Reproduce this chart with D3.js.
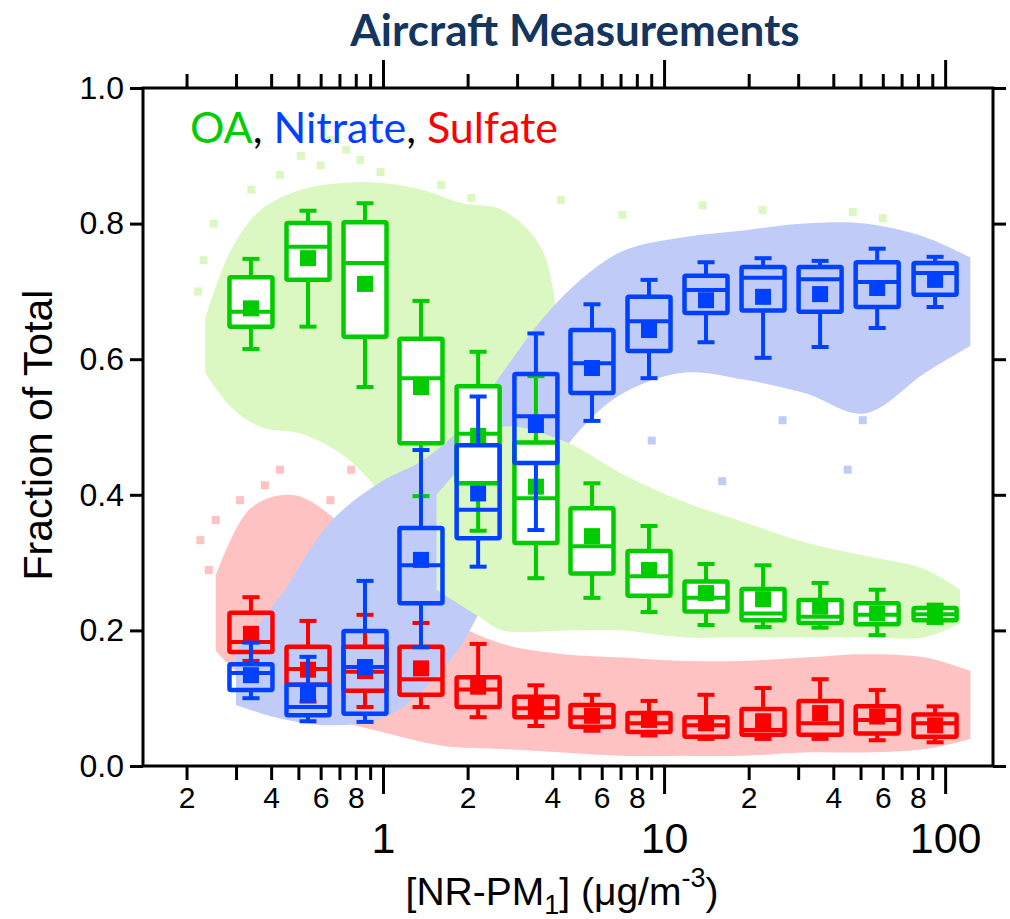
<!DOCTYPE html>
<html>
<head>
<meta charset="utf-8">
<script src="https://cdn.jsdelivr.net/npm/d3@7"></script>
<style>
  body { margin: 0; background: #fff; }
  text { font-family: "Liberation Sans", Arial, sans-serif; }
</style>
</head>
<body>
<div id="chart"></div>
<script>
// bin centres of the box plots (NR-PM1, ug/m3)
const binCenters = [0.339, 0.541, 0.863, 1.365, 2.18, 3.50, 5.54, 8.84, 14.1, 22.5, 35.9, 57.3, 92.1];

// OA (green) box statistics
const oaLo   = [0.615, 0.648, 0.559, 0.398, 0.347, 0.277, 0.248, 0.227, 0.208, 0.205, 0.204, 0.193, 0.211];
const oaQ1   = [0.648, 0.717, 0.633, 0.476, 0.417, 0.329, 0.284, 0.251, 0.228, 0.215, 0.211, 0.209, 0.215];
const oaMed  = [0.670, 0.766, 0.742, 0.572, 0.490, 0.395, 0.324, 0.280, 0.248, 0.225, 0.220, 0.223, 0.224];
const oaQ3   = [0.721, 0.801, 0.802, 0.630, 0.560, 0.477, 0.380, 0.317, 0.272, 0.261, 0.245, 0.240, 0.233];
const oaHi   = [0.748, 0.819, 0.830, 0.686, 0.611, 0.575, 0.417, 0.354, 0.298, 0.296, 0.270, 0.260, 0.238];
const oaMean = [0.675, 0.749, 0.711, 0.559, 0.487, 0.412, 0.339, 0.289, 0.255, 0.246, 0.235, 0.225, 0.224];

// Nitrate (blue)
const no3Lo   = [0.100, 0.066, 0.065, 0.175, 0.294, 0.348, 0.509, 0.572, 0.625, 0.602, 0.618, 0.646, 0.677];
const no3Q1   = [0.112, 0.075, 0.077, 0.240, 0.336, 0.447, 0.550, 0.612, 0.668, 0.672, 0.670, 0.677, 0.695];
const no3Med  = [0.137, 0.087, 0.146, 0.296, 0.378, 0.516, 0.594, 0.656, 0.702, 0.720, 0.718, 0.714, 0.727];
const no3Q3   = [0.150, 0.120, 0.199, 0.351, 0.473, 0.578, 0.643, 0.692, 0.723, 0.736, 0.736, 0.743, 0.742];
const no3Hi   = [0.182, 0.161, 0.273, 0.466, 0.545, 0.638, 0.681, 0.717, 0.743, 0.749, 0.745, 0.763, 0.751];
const no3Mean = [0.134, 0.105, 0.146, 0.304, 0.402, 0.503, 0.587, 0.643, 0.687, 0.692, 0.696, 0.705, 0.717];

// Sulfate (red)
const so4Lo   = [0.155, 0.095, 0.087, 0.087, 0.072, 0.059, 0.052, 0.045, 0.040, 0.040, 0.040, 0.038, 0.035];
const so4Q1   = [0.168, 0.120, 0.111, 0.105, 0.087, 0.072, 0.058, 0.050, 0.043, 0.046, 0.046, 0.048, 0.043];
const so4Med  = [0.183, 0.143, 0.139, 0.128, 0.113, 0.085, 0.072, 0.063, 0.060, 0.053, 0.063, 0.068, 0.063];
const so4Q3   = [0.226, 0.176, 0.176, 0.176, 0.131, 0.102, 0.090, 0.078, 0.072, 0.084, 0.096, 0.088, 0.076];
const so4Hi   = [0.249, 0.214, 0.223, 0.211, 0.180, 0.119, 0.105, 0.096, 0.105, 0.115, 0.128, 0.112, 0.088];
const so4Mean = [0.195, 0.142, 0.140, 0.144, 0.117, 0.087, 0.074, 0.068, 0.063, 0.066, 0.078, 0.073, 0.060];

// envelopes of the scattered point clouds
const oaCloudX   = [0.233, 0.287, 0.367, 0.511, 0.711, 0.99, 1.375, 1.91, 2.66, 3.70, 4.36];
const oaCloudLo  = [0.58, 0.53, 0.50, 0.49, 0.46, 0.40, 0.30, 0.25, 0.22, 0.20, 0.20];
const oaCloudHi  = [0.66, 0.76, 0.82, 0.85, 0.86, 0.86, 0.85, 0.83, 0.82, 0.76, 0.56];
const oaBranchX  = [1.55, 2.2, 2.66, 4.36, 7.16, 11.7, 19.2, 31.6, 51.7, 84.9, 113];
const oaBranchLo = [0.26, 0.22, 0.20, 0.20, 0.20, 0.19, 0.19, 0.19, 0.19, 0.19, 0.21];
const oaBranchHi = [0.40, 0.47, 0.50, 0.48, 0.43, 0.39, 0.36, 0.33, 0.31, 0.29, 0.26];

const no3CloudX  = [0.30, 0.43, 0.65, 0.99, 1.375, 1.91, 2.66, 3.70, 5.14, 7.16, 11.7, 19.2, 31.6, 51.7, 84.9, 123];
const no3CloudLo = [0.09, 0.07, 0.06, 0.07, 0.11, 0.18, 0.30, 0.42, 0.50, 0.55, 0.58, 0.57, 0.55, 0.52, 0.58, 0.62];
const no3CloudHi = [0.17, 0.25, 0.36, 0.42, 0.45, 0.50, 0.58, 0.66, 0.72, 0.76, 0.78, 0.79, 0.80, 0.80, 0.78, 0.75];

const so4CloudX  = [0.254, 0.338, 0.47, 0.65, 0.99, 1.62, 2.66, 4.36, 7.16, 11.7, 19.2, 31.6, 51.7, 84.9, 123];
const so4CloudLo = [0.17, 0.12, 0.09, 0.07, 0.05, 0.03, 0.025, 0.02, 0.015, 0.015, 0.015, 0.02, 0.02, 0.025, 0.04];
const so4CloudHi = [0.28, 0.38, 0.40, 0.37, 0.28, 0.22, 0.18, 0.165, 0.16, 0.155, 0.155, 0.16, 0.165, 0.16, 0.14];

// a few loose points outside the dense clouds
const oaLooseX  = [0.51, 0.60, 0.74, 0.83, 0.98, 0.43, 0.34, 0.25, 0.23, 0.22, 1.21, 1.61, 2.06, 0.65, 0.27, 0.29, 46.9, 60, 13.7, 22.4, 7.1, 4.3];
const oaLooseY  = [0.90, 0.886, 0.909, 0.894, 0.876, 0.872, 0.85, 0.80, 0.746, 0.70, 0.835, 0.857, 0.838, 0.923, 0.687, 0.643, 0.817, 0.808, 0.827, 0.82, 0.813, 0.835];
const no3LooseX = [50.9, 45, 26.4, 16.1, 9.04, 0.31];
const no3LooseY = [0.51, 0.437, 0.51, 0.42, 0.48, 0.097];
const so4LooseX = [0.224, 0.254, 0.31, 0.38, 0.43, 0.51, 0.24, 0.77, 0.65];
const so4LooseY = [0.333, 0.363, 0.392, 0.414, 0.437, 0.385, 0.289, 0.437, 0.392];

const yTicks = [0, 0.2, 0.4, 0.6, 0.8, 1.0];
const xMajor = [1, 10, 100];
const xMinorLabels = ["2", "4", "6", "8"];

const W = 1010, H = 919;
const margin = {top: 88, right: 17, bottom: 153, left: 143};

const svg = d3.select("#chart").append("svg")
    .attr("width", W)
    .attr("height", H);

const x = d3.scaleLog()
    .domain([0.14, 148])
    .range([margin.left, W - margin.right]);
const y = d3.scaleLinear()
    .domain([0, 1])
    .range([H - margin.bottom, margin.top]);

svg.append("clipPath").attr("id", "plotclip")
  .append("rect")
    .attr("x", margin.left).attr("y", margin.top)
    .attr("width", W - margin.left - margin.right)
    .attr("height", H - margin.top - margin.bottom);

const plot = svg.append("g").attr("clip-path", "url(#plotclip)");

const area = d3.area()
    .x(d => x(d.x))
    .y0(d => y(d.lo))
    .y1(d => y(d.hi))
    .curve(d3.curveCatmullRom);

function cloud(xs, los, his, col) {
  const pts = xs.map((v, i) => ({x: v, lo: los[i], hi: his[i]}));
  plot.append("path").datum(pts).attr("d", area).attr("fill", col);
}
function loose(xs, ys, col) {
  plot.append("g").selectAll("rect")
    .data(xs.map((v, i) => [v, ys[i]]))
    .join("rect")
      .attr("x", d => x(d[0]) - 4)
      .attr("y", d => y(d[1]) - 4)
      .attr("width", 8).attr("height", 8)
      .attr("fill", col);
}

const lightGreen = "#dcf8c2", lightBlue = "#c0cbf8", lightRed = "#ffc2c2";
cloud(so4CloudX, so4CloudLo, so4CloudHi, lightRed);
cloud(oaCloudX, oaCloudLo, oaCloudHi, lightGreen);
cloud(no3CloudX, no3CloudLo, no3CloudHi, lightBlue);
cloud(oaBranchX, oaBranchLo, oaBranchHi, lightGreen);
loose(oaLooseX, oaLooseY, lightGreen);
loose(no3LooseX, no3LooseY, lightBlue);
loose(so4LooseX, so4LooseY, lightRed);

// box plots
const boxW = 43, capW = 17, meanS = 16;
function boxes(lo, q1, med, q3, hi, mean, col, fill) {
  const data = binCenters.map((c, i) => ({c, lo: lo[i], q1: q1[i], med: med[i], q3: q3[i], hi: hi[i], mean: mean[i]}));
  const g = plot.append("g").selectAll("g").data(data).join("g");
  g.append("line") // upper whisker
    .attr("x1", d => x(d.c)).attr("x2", d => x(d.c))
    .attr("y1", d => y(d.q3)).attr("y2", d => y(d.hi))
    .attr("stroke", col).attr("stroke-width", 4);
  g.append("line") // lower whisker
    .attr("x1", d => x(d.c)).attr("x2", d => x(d.c))
    .attr("y1", d => y(d.q1)).attr("y2", d => y(d.lo))
    .attr("stroke", col).attr("stroke-width", 4);
  g.append("line")
    .attr("x1", d => x(d.c) - capW / 2).attr("x2", d => x(d.c) + capW / 2)
    .attr("y1", d => y(d.hi)).attr("y2", d => y(d.hi))
    .attr("stroke", col).attr("stroke-width", 4);
  g.append("line")
    .attr("x1", d => x(d.c) - capW / 2).attr("x2", d => x(d.c) + capW / 2)
    .attr("y1", d => y(d.lo)).attr("y2", d => y(d.lo))
    .attr("stroke", col).attr("stroke-width", 4);
  g.append("rect")
    .attr("x", d => x(d.c) - boxW / 2)
    .attr("y", d => y(d.q3))
    .attr("width", boxW)
    .attr("height", d => y(d.q1) - y(d.q3))
    .attr("fill", fill).attr("stroke", col).attr("stroke-width", 4.5)
    .attr("rx", 1.5);
  g.append("line")
    .attr("x1", d => x(d.c) - boxW / 2).attr("x2", d => x(d.c) + boxW / 2)
    .attr("y1", d => y(d.med)).attr("y2", d => y(d.med))
    .attr("stroke", col).attr("stroke-width", 4);
  g.append("rect")
    .attr("x", d => x(d.c) - meanS / 2)
    .attr("y", d => y(d.mean) - meanS / 2)
    .attr("width", meanS).attr("height", meanS)
    .attr("fill", col);
}

boxes(oaLo, oaQ1, oaMed, oaQ3, oaHi, oaMean, "#00cc00", "#ffffff");
boxes(so4Lo, so4Q1, so4Med, so4Q3, so4Hi, so4Mean, "#ff0000", "none");
boxes(no3Lo, no3Q1, no3Med, no3Q3, no3Hi, no3Mean, "#0040ff", "none");

// axes
const minorVals = [];
[0.1, 1, 10, 100].forEach(dec => {
  for (let k = 2; k <= 9; k++) {
    const v = dec * k;
    if (v >= 0.14 && v <= 148) minorVals.push(v);
  }
});
const minorLab = v => {
  const k = Math.round(v / Math.pow(10, Math.floor(Math.log10(v) + 1e-9)));
  return xMinorLabels.includes(String(k)) ? String(k) : "";
};

const axB = H - margin.bottom, axT = margin.top;
svg.append("g").attr("transform", `translate(0,${axB})`)
    .call(d3.axisBottom(x).tickValues(minorVals).tickSize(14).tickPadding(7).tickFormat(minorLab))
    .call(g => g.select(".domain").remove())
    .call(g => g.selectAll("text").attr("font-size", 30).attr("fill", "#000"));
svg.append("g").attr("transform", `translate(0,${axB})`)
    .call(d3.axisBottom(x).tickValues(xMajor).tickSize(28).tickPadding(20).tickFormat(d3.format("d")))
    .call(g => g.select(".domain").remove())
    .call(g => g.selectAll("text").attr("font-size", 43).attr("dy", "0.9em").attr("fill", "#000"));
svg.append("g").attr("transform", `translate(0,${axT})`)
    .call(d3.axisTop(x).tickValues(minorVals).tickSize(14).tickFormat(""))
    .call(g => g.select(".domain").remove());
svg.append("g").attr("transform", `translate(0,${axT})`)
    .call(d3.axisTop(x).tickValues(xMajor).tickSize(28).tickFormat(""))
    .call(g => g.select(".domain").remove());

svg.append("g").attr("transform", `translate(${margin.left},0)`)
    .call(d3.axisLeft(y).tickValues(yTicks).tickSize(13).tickPadding(6).tickFormat(d3.format(".1f")))
    .call(g => g.select(".domain").remove())
    .call(g => g.selectAll("text").attr("font-size", 32).attr("fill", "#000"));
svg.append("g").attr("transform", `translate(${W - margin.right},0)`)
    .call(d3.axisRight(y).tickValues(yTicks).tickSize(13).tickFormat(""))
    .call(g => g.select(".domain").remove());

svg.selectAll(".tick line").attr("stroke", "#000").attr("stroke-width", 3);

svg.append("rect")
    .attr("x", margin.left).attr("y", margin.top)
    .attr("width", W - margin.left - margin.right)
    .attr("height", H - margin.top - margin.bottom)
    .attr("fill", "none").attr("stroke", "#000").attr("stroke-width", 3);

// titles
svg.append("text")
    .attr("x", 575).attr("y", 46)
    .attr("text-anchor", "middle")
    .style("font-family", "Lato, 'Open Sans', sans-serif")
    .attr("font-weight", "bold").attr("font-size", 44)
    .attr("fill", "#14355e")
    .text("Aircraft Measurements");

const leg = svg.append("text")
    .attr("x", 190).attr("y", 143)
    .style("font-family", "Lato, 'Open Sans', sans-serif")
    .attr("font-size", 43);
leg.append("tspan").attr("fill", "#00cc00").text("OA");
leg.append("tspan").attr("fill", "#000").text(", ");
leg.append("tspan").attr("fill", "#0040ff").text("Nitrate");
leg.append("tspan").attr("fill", "#000").text(", ");
leg.append("tspan").attr("fill", "#ff0000").text("Sulfate");

svg.append("text")
    .attr("transform", "translate(52,435) rotate(-90)")
    .attr("text-anchor", "middle")
    .attr("font-size", 41)
    .text("Fraction of Total");

const xt = svg.append("text")
    .attr("x", 562).attr("y", 905)
    .attr("text-anchor", "middle")
    .attr("font-size", 39);
xt.append("tspan").text("[NR-PM");
xt.append("tspan").attr("font-size", 27).attr("dy", 9).text("1");
xt.append("tspan").attr("dy", -9).text("] (\u03bcg/m");
xt.append("tspan").attr("font-size", 27).attr("dy", -18).text("-3");
xt.append("tspan").attr("dy", 18).text(")");
</script>
</body>
</html>
